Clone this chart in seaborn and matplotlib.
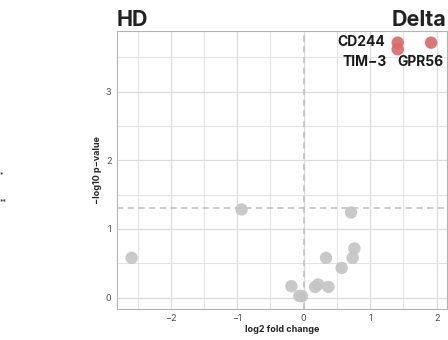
import matplotlib
matplotlib.use("Agg")
import matplotlib.pyplot as plt
import seaborn as sns
import pandas as pd
from matplotlib.ticker import MultipleLocator

genes = ["g1", "g2", "g3", "g4", "g5", "g6", "g7", "g8", "g9", "g10", "g11", "g12", "g13",
         "CD244", "TIM\u22123", "GPR56"]
log2fc = [-2.59, -0.934, 0.713, 0.763, 0.738, 0.337, 0.572, -0.185, -0.065, -0.024, 0.172, 0.217, 0.372,
          1.416, 1.416, 1.918]
neglogp = [0.578, 1.284, 1.24, 0.715, 0.578, 0.578, 0.432, 0.165, 0.024, 0.02, 0.155, 0.19, 0.155,
           3.716, 3.62, 3.716]
signif = ["no"] * 13 + ["yes"] * 3

df = pd.DataFrame({"gene": genes, "log2fc": log2fc, "neglogp": neglogp, "sig": signif})

sns.set_theme(style="white")
plt.rcParams['font.family'] = ['Inter', 'DejaVu Sans']

fig = plt.figure(figsize=(4.48, 3.4), dpi=100)
ax = fig.add_axes([117/448, 1 - 308.5/340, (446.5-117)/448, (308.5-31)/340])

ax.set_xlim(-2.81, 2.15)
ax.set_ylim(-0.16, 3.886)
ax.xaxis.set_major_locator(MultipleLocator(1))
ax.xaxis.set_minor_locator(MultipleLocator(0.5))
ax.yaxis.set_major_locator(MultipleLocator(1))
ax.yaxis.set_minor_locator(MultipleLocator(0.5))
ax.grid(which="major", color="#DCDCDC", lw=0.9)
ax.grid(which="minor", color="#E3E3E3", lw=0.8)
ax.set_axisbelow(True)
for s in ax.spines.values():
    s.set_color("#B3B3B3")
    s.set_linewidth(0.8)
ax.tick_params(which="major", length=2.5, width=0.6, color="#B3B3B3",
               labelsize=6.5, labelcolor="#4D4D4D", pad=1.5)
ax.tick_params(which="minor", length=0)

ax.axvline(0, color="#BDBDBD", ls=(0, (4, 3)), lw=1.1, zorder=1.5)
ax.axhline(1.301, color="#BDBDBD", ls=(0, (4, 3)), lw=1.1, zorder=1.5)

sns.scatterplot(data=df, x="log2fc", y="neglogp", hue="sig",
                palette={"no": "#C4C4C4", "yes": "#D9686A"}, s=80,
                alpha=0.9, edgecolor="none", legend=False, ax=ax, zorder=3)

lab = dict(fontsize=10, fontweight="bold", color="#1A1A1A")
ax.annotate("CD244", (1.416, 3.716), xytext=(-9, 0.5), textcoords="offset points",
            ha="right", va="center", **lab)
ax.annotate("TIM\u22123", (1.416, 3.62), xytext=(-8, -9), textcoords="offset points",
            ha="right", va="center", **lab)
ax.annotate("GPR56", (1.918, 3.716), xytext=(9, -14), textcoords="offset points",
            ha="right", va="center", **lab)

ax.set_xlabel("log2 fold change", fontsize=6.5, fontweight="bold", labelpad=1.5)
ax.set_ylabel("\u2212log10 p\u2212value", fontsize=6.5, fontweight="bold", labelpad=3)

fig.text(117/448, 1 - 19.5/340, "HD", ha="left", va="center", fontsize=15.5, fontweight="bold", color="#222222")
fig.text(446.5/448, 1 - 19.5/340, "Delta", ha="right", va="center", fontsize=15.5, fontweight="bold", color="#222222")

fig.text(0.0, 1 - 174/340, "*", ha="left", va="center", fontsize=5, color="#333333")
fig.text(0.0, 1 - 201/340, "**", ha="left", va="center", fontsize=5, color="#333333")

fig.savefig("out.png", dpi=100)
